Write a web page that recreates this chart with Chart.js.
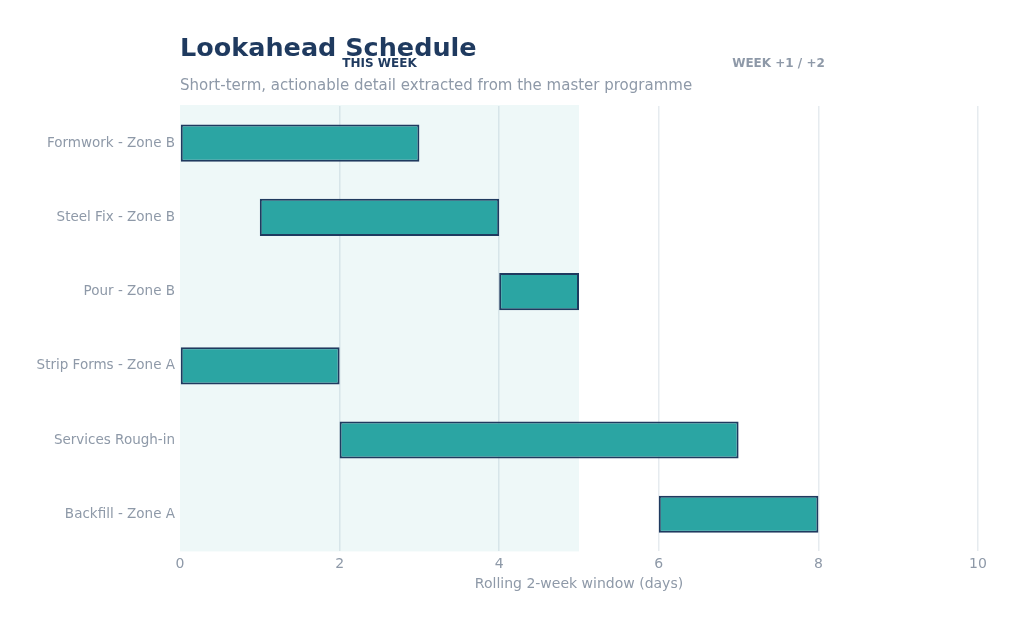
<!DOCTYPE html>
<html>
<head>
<meta charset="utf-8">
<script src="https://cdn.jsdelivr.net/npm/chart.js"></script>
<style>
  html, body { margin: 0; padding: 0; background: #fff; }
  #wrap { width: 1024px; height: 627px; }
</style>
</head>
<body>
<div id="wrap"><canvas id="chart"></canvas></div>
<script>
const tasks = [
  'Formwork - Zone B',
  'Steel Fix - Zone B',
  'Pour - Zone B',
  'Strip Forms - Zone A',
  'Services Rough-in',
  'Backfill - Zone A'
];
const starts = [0, 1, 4, 0, 2, 6];
const ends = [3, 4, 5, 2, 7, 8];
const windowLabels = ['THIS WEEK', 'WEEK +1 / +2'];
const thisWeekEnd = 5;
const windowEnd = 10;

const FONT = "'DejaVu Sans', sans-serif";
const NAVY = '#1F3A5F';
const GREY = '#8E99A8';

// shaded current week + header labels + title block
const lookaheadPlugin = {
  id: 'lookahead',
  beforeDatasetsDraw(chart) {
    const { ctx, chartArea, scales } = chart;
    const x0 = scales.x.getPixelForValue(0);
    const x1 = scales.x.getPixelForValue(thisWeekEnd);
    ctx.save();
    ctx.fillStyle = 'rgba(43,165,163,0.08)';
    ctx.fillRect(x0, chartArea.top - 1, x1 - x0, chartArea.bottom - chartArea.top + 1);
    ctx.restore();
  },
  afterDraw(chart) {
    const { ctx, chartArea, scales } = chart;
    ctx.save();
    ctx.textBaseline = 'alphabetic';
    ctx.textAlign = 'left';
    ctx.fillStyle = NAVY;
    ctx.font = "bold 25.5px " + FONT;
    ctx.fillText('Lookahead Schedule', chartArea.left, 56);
    ctx.fillStyle = GREY;
    ctx.font = "15px " + FONT;
    ctx.fillText('Short-term, actionable detail extracted from the master programme', chartArea.left, 90);

    ctx.textAlign = 'center';
    ctx.font = "bold 12px " + FONT;
    ctx.fillStyle = NAVY;
    ctx.fillText(windowLabels[0], scales.x.getPixelForValue(thisWeekEnd / 2), 67);
    ctx.fillStyle = GREY;
    ctx.fillText(windowLabels[1], scales.x.getPixelForValue((thisWeekEnd + windowEnd) / 2), 67);
    ctx.restore();
  }
};

new Chart(document.getElementById('chart'), {
  type: 'bar',
  data: {
    labels: tasks,
    datasets: [{
      data: starts.map((s, i) => [s, ends[i]]),
      backgroundColor: '#2BA5A3',
      borderColor: NAVY,
      borderWidth: 2,
      borderSkipped: false,
      categoryPercentage: 1,
      barPercentage: 0.5
    }]
  },
  options: {
    indexAxis: 'y',
    responsive: true,
    maintainAspectRatio: false,
    animation: false,
    layout: { padding: { top: 106, right: 46, bottom: 34, left: 0 } },
    plugins: {
      legend: { display: false },
      tooltip: { enabled: false }
    },
    scales: {
      x: {
        min: 0,
        max: windowEnd,
        ticks: {
          stepSize: 2,
          color: GREY,
          font: { family: FONT, size: 14 },
          padding: 5
        },
        grid: {
          color: ctx => ctx.tick && ctx.tick.value === 0 ? 'rgba(0,0,0,0)' : '#E6EBEF',
          lineWidth: 1.5,
          drawTicks: false
        },
        border: { display: false },
        title: {
          display: true,
          text: 'Rolling 2-week window (days)',
          color: GREY,
          font: { family: FONT, size: 14 },
          padding: { top: -2, bottom: 0 }
        }
      },
      y: {
        afterFit(scale) { scale.width = 180; },
        ticks: {
          color: GREY,
          font: { family: FONT, size: 13.5 },
          padding: 5
        },
        grid: { display: false, drawTicks: false },
        border: { display: false }
      }
    }
  },
  plugins: [lookaheadPlugin]
});
</script>
</body>
</html>
